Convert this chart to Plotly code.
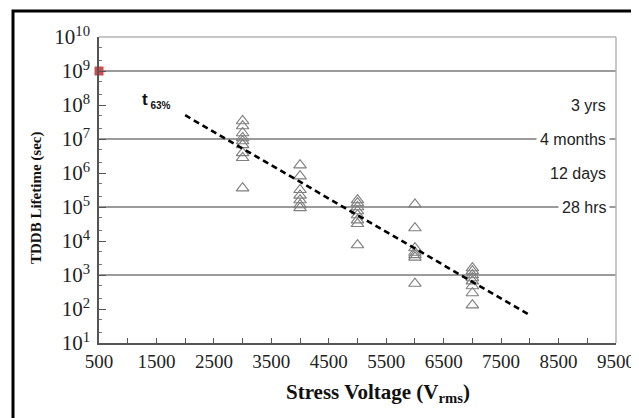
import math
import plotly.graph_objects as go

# ---- data ----
volts_3000 = [3000] * 9
life_3000 = [3.4e7, 2.4e7, 1.5e7, 1.07e7, 8.7e6, 6.7e6, 3.9e6, 2.8e6, 3.6e5]
volts_4000 = [4000] * 7
life_4000 = [1.7e6, 8.1e5, 3.2e5, 2.2e5, 1.6e5, 1.15e5, 9.4e4]
volts_5000 = [5000] * 8
life_5000 = [1.6e5, 1.3e5, 1.0e5, 7.6e4, 5.8e4, 4.1e4, 3.2e4, 7.6e3]
volts_6000 = [6000] * 7
life_6000 = [1.2e5, 2.4e4, 6.2e3, 4.6e3, 3.9e3, 3.3e3, 5.6e2]
volts_7000 = [7000] * 8
life_7000 = [1.6e3, 1.3e3, 1.0e3, 8.2e2, 6.6e2, 4.75e2, 2.95e2, 1.3e2]

fit_volts = [2000, 8000]
fit_life = [5.0e7, 66]

ref_point_v = [500]
ref_point_life = [1e9]

ref_levels = [1e9, 1e7, 1e5, 1e3]
ref_labels = ["3 yrs", "4 months", "12 days", "28 hrs"]
ref_label_y = [1e8, 1e7, 1e6, 1e5]

x_ticks = list(range(500, 10000, 500))
x_ticktext = [str(v) if (v - 500) % 1000 == 0 else "" for v in x_ticks]
y_ticks = [10 ** k for k in range(1, 11)]
y_ticktext = ["10<sup>%d</sup>" % k for k in range(1, 11)]

# ---- figure ----
W, H = 639, 418
L, R, T, B = 91, 31, 29, 83
pw, ph = W - L - R, H - T - B


def px_x(p):
    return (p - L) / pw


def px_y(p):
    return (H - B - p) / ph


fig = go.Figure()

# reference horizontal lines
for lv in ref_levels:
    fig.add_trace(go.Scatter(x=[500, 9500], y=[lv, lv], mode="lines",
                             line=dict(color="#7a7a7a", width=1.5),
                             hoverinfo="skip", showlegend=False))

tri = dict(symbol="triangle-up-open", size=11, color="#7f7f7f", line=dict(width=1.1))
for xs, ys in [(volts_3000, life_3000), (volts_4000, life_4000), (volts_5000, life_5000),
               (volts_6000, life_6000), (volts_7000, life_7000)]:
    fig.add_trace(go.Scatter(x=xs, y=ys, mode="markers", marker=tri, showlegend=False))

fig.add_trace(go.Scatter(x=fit_volts, y=fit_life, mode="lines",
                         line=dict(color="black", width=2.6, dash="6px,4px"),
                         showlegend=False))

fig.add_trace(go.Scatter(x=ref_point_v, y=ref_point_life, mode="markers",
                         marker=dict(symbol="square", size=9, color="#d04a50"),
                         cliponaxis=False, showlegend=False))

serif = "Liberation Serif, Times New Roman, serif"
sans = "Liberation Sans, Arial, sans-serif"

fig.update_xaxes(range=[500, 9500], tickmode="array", tickvals=x_ticks, ticktext=x_ticktext,
                 ticks="inside", ticklen=5, tickcolor="#555", showgrid=False, zeroline=False,
                 showline=True, linecolor="#555", linewidth=1.5,
                 tickfont=dict(family=serif, size=19, color="#222"))
fig.update_yaxes(type="log", range=[1, 10], tickmode="array", tickvals=y_ticks, ticktext=y_ticktext,
                 ticks="inside", ticklen=7, tickcolor="#555", showgrid=False, zeroline=False,
                 showline=True, linecolor="#555", linewidth=1.5,
                 minor=dict(ticks="inside", ticklen=3, tickcolor="#777", showgrid=False),
                 tickfont=dict(family=serif, size=21, color="#222"), ticklabelstandoff=3)

annotations = []
for txt, yv in zip(ref_labels, ref_label_y):
    annotations.append(dict(x=px_x(602), xref="paper", y=math.log10(yv), yref="y",
                            text=txt, showarrow=False, xanchor="right", yanchor="middle",
                            bgcolor="white", borderpad=3,
                            font=dict(family=sans, size=16, color="#222")))
annotations.append(dict(x=1500, y=8.12, xref="x", yref="y", showarrow=False,
                        xanchor="center", yanchor="middle",
                        text="<b>t</b><sub><b><span style='font-size:10px'> 63%</span></b></sub>",
                        font=dict(family=sans, size=17, color="#111")))
annotations.append(dict(x=px_x(370), y=px_y(385), xref="paper", yref="paper", showarrow=False,
                        xanchor="center", yanchor="middle",
                        text="<b>Stress Voltage (V<sub>rms</sub>)</b>",
                        font=dict(family=serif, size=21, color="#111")))
annotations.append(dict(x=px_x(28), y=px_y(190), xref="paper", yref="paper", showarrow=False,
                        xanchor="center", yanchor="middle",
                        textangle=-90, text="<b>TDDB Lifetime (sec)</b>",
                        font=dict(family=serif, size=15, color="#111")))

shapes = [
    # top and right plot border (light)
    dict(type="line", xref="paper", yref="paper", x0=0, x1=1, y0=1, y1=1,
         line=dict(color="#b5b5b5", width=1.5)),
    dict(type="line", xref="paper", yref="paper", x0=1, x1=1, y0=0, y1=1,
         line=dict(color="#b5b5b5", width=1.5)),
    # outer frame
    dict(type="rect", xref="paper", yref="paper", x0=px_x(5), x1=px_x(660),
         y0=px_y(415), y1=px_y(3), line=dict(color="black", width=3)),
]

fig.update_layout(width=W, height=H, margin=dict(l=L, r=R, t=T, b=B),
                  paper_bgcolor="white", plot_bgcolor="white",
                  annotations=annotations, shapes=shapes, showlegend=False)

fig.write_html("out.html")
